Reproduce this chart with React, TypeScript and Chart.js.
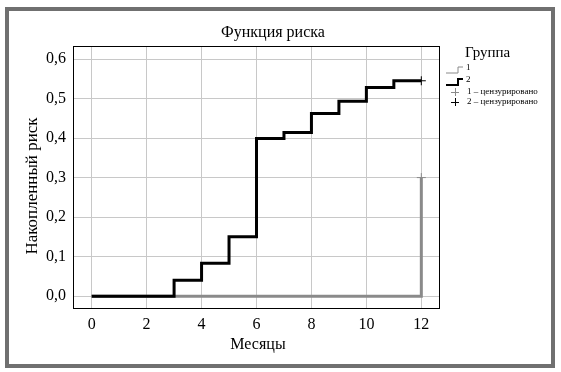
import React, { useEffect, useRef } from "react";
import { Chart, registerables } from "chart.js";

Chart.register(...registerables);

const chartTitle = "Функция риска";
const xTitle = "Месяцы";
const yTitle = "Накопленный риск";
const legendTitle = "Группа";
const legendLabels = ["1", "2", "1 – цензурировано", "2 – цензурировано"];

const xTicks = [0, 2, 4, 6, 8, 10, 12];
const yTicks = [0, 0.1, 0.2, 0.3, 0.4, 0.5, 0.6];

// Group 1 (gray)
const months1 = [0, 12];
const risk1 = [0, 0.3];
const censorMonths1 = [12];
const censorRisk1 = [0.3];

// Group 2 (black)
const months2 = [0, 3, 4, 5, 6, 7, 8, 9, 10, 11, 12];
const risk2 = [0, 0.04, 0.083, 0.15, 0.399, 0.414, 0.462, 0.493, 0.528, 0.545, 0.545];
const censorMonths2 = [12];
const censorRisk2 = [0.545];

const GRAY = "#8a8a8a";
const BLACK = "#000000";
const SERIF = "'Liberation Serif', 'Times New Roman', serif";

const toPts = (xs: number[], ys: number[]) => xs.map((x, i) => ({ x, y: ys[i] }));

const decorPlugin = {
  id: "decor",
  afterDraw(chart: any) {
    const { ctx, chartArea } = chart;
    ctx.save();
    // plot border
    ctx.strokeStyle = "#000";
    ctx.lineWidth = 1;
    ctx.strokeRect(chartArea.left + 0.5, chartArea.top + 0.5, chartArea.right - chartArea.left - 1, chartArea.bottom - chartArea.top);

    ctx.fillStyle = "#000";
    ctx.textBaseline = "middle";
    ctx.textAlign = "center";
    ctx.font = `16px ${SERIF}`;
    ctx.fillText(chartTitle, 273, 33);
    ctx.fillText(xTitle, 258, 345);

    ctx.save();
    ctx.translate(33, 186);
    ctx.rotate(-Math.PI / 2);
    ctx.font = `17px ${SERIF}`;
    ctx.fillText(yTitle, 0, 0);
    ctx.restore();

    // legend
    ctx.textAlign = "left";
    ctx.font = `15px ${SERIF}`;
    ctx.fillText(legendTitle, 465, 53);

    ctx.font = `9px ${SERIF}`;
    const drawStep = (y: number, color: string, w: number) => {
      ctx.strokeStyle = color;
      ctx.lineWidth = w;
      ctx.beginPath();
      ctx.moveTo(446, y + 3);
      ctx.lineTo(458, y + 3);
      ctx.lineTo(458, y - 3);
      ctx.lineTo(463, y - 3);
      ctx.stroke();
    };
    drawStep(70, GRAY, 1);
    ctx.fillText(legendLabels[0], 466, 68);
    drawStep(82, BLACK, 2);
    ctx.fillText(legendLabels[1], 466, 80);

    const drawPlus = (x: number, y: number, color: string) => {
      ctx.strokeStyle = color;
      ctx.lineWidth = 1;
      ctx.beginPath();
      ctx.moveTo(x - 4, y + 0.5);
      ctx.lineTo(x + 4, y + 0.5);
      ctx.moveTo(x + 0.5, y - 4);
      ctx.lineTo(x + 0.5, y + 4);
      ctx.stroke();
    };
    drawPlus(455, 92, GRAY);
    ctx.fillText(legendLabels[2], 467, 92);
    drawPlus(455, 102, BLACK);
    ctx.fillText(legendLabels[3], 467, 102);
    ctx.restore();
  },
};

export default function App() {
  const ref = useRef<HTMLCanvasElement>(null);
  useEffect(() => {
    if (!ref.current) return;
    const chart = new Chart(ref.current, {
      type: "line",
      data: {
        datasets: [
          {
            label: "2",
            data: toPts(months2, risk2),
            stepped: "before",
            borderColor: BLACK,
            borderWidth: 3,
            pointRadius: 0,
            fill: false,
            order: 0,
          },
          {
            label: "1",
            data: toPts(months1, risk1),
            stepped: "before",
            borderColor: GRAY,
            borderWidth: 3,
            pointRadius: 0,
            fill: false,
            order: 1,
          },
          {
            label: "1 cens",
            data: toPts(censorMonths1, censorRisk1),
            showLine: false,
            pointStyle: "cross",
            pointRadius: 4.5,
            pointBorderColor: GRAY,
            pointBorderWidth: 1,
            borderColor: GRAY,
            order: -1,
          },
          {
            label: "2 cens",
            data: toPts(censorMonths2, censorRisk2),
            showLine: false,
            pointStyle: "cross",
            pointRadius: 4.5,
            pointBorderColor: BLACK,
            pointBorderWidth: 1,
            borderColor: BLACK,
            order: -2,
          },
        ],
      },
      options: {
        animation: false,
        responsive: false,
        devicePixelRatio: 1,
        layout: { padding: { left: 10, top: 46, right: 121, bottom: 14 } },
        plugins: { legend: { display: false }, title: { display: false }, tooltip: { enabled: false } },
        scales: {
          x: {
            type: "linear",
            min: -0.68,
            max: 12.68,
            afterBuildTicks: (s: any) => {
              s.ticks = xTicks.map((v) => ({ value: v }));
            },
            afterFit: (s: any) => {
              s.height = 50;
            },
            grid: { color: "#c8c8c8", lineWidth: 1, drawTicks: false },
            border: { display: false },
            ticks: {
              padding: 7,
              color: "#000",
              font: { family: SERIF, size: 16 },
              maxRotation: 0,
              callback: (v: any) => String(v),
            },
          },
          y: {
            min: -0.03,
            max: 0.633,
            afterBuildTicks: (s: any) => {
              s.ticks = yTicks.map((v) => ({ value: v }));
            },
            afterFit: (s: any) => {
              s.width = 63;
            },
            grid: { color: "#c8c8c8", lineWidth: 1, drawTicks: false },
            border: { display: false },
            ticks: {
              padding: 7,
              color: "#000",
              font: { family: SERIF, size: 16 },
              callback: (v: any) => Number(v).toFixed(1).replace(".", ","),
            },
          },
        },
      },
      plugins: [decorPlugin],
    });
    return () => chart.destroy();
  }, []);

  return (
    <div style={{ position: "fixed", left: 0, top: 0, width: 561, height: 372, background: "#fff" }}>
      <div
        style={{
          position: "absolute",
          left: 5,
          top: 7,
          width: 550,
          height: 361,
          border: "4px solid #707070",
          boxSizing: "border-box",
        }}
      />
      <canvas ref={ref} width={561} height={372} style={{ position: "absolute", left: 0, top: 0, width: 561, height: 372 }} />
    </div>
  );
}
